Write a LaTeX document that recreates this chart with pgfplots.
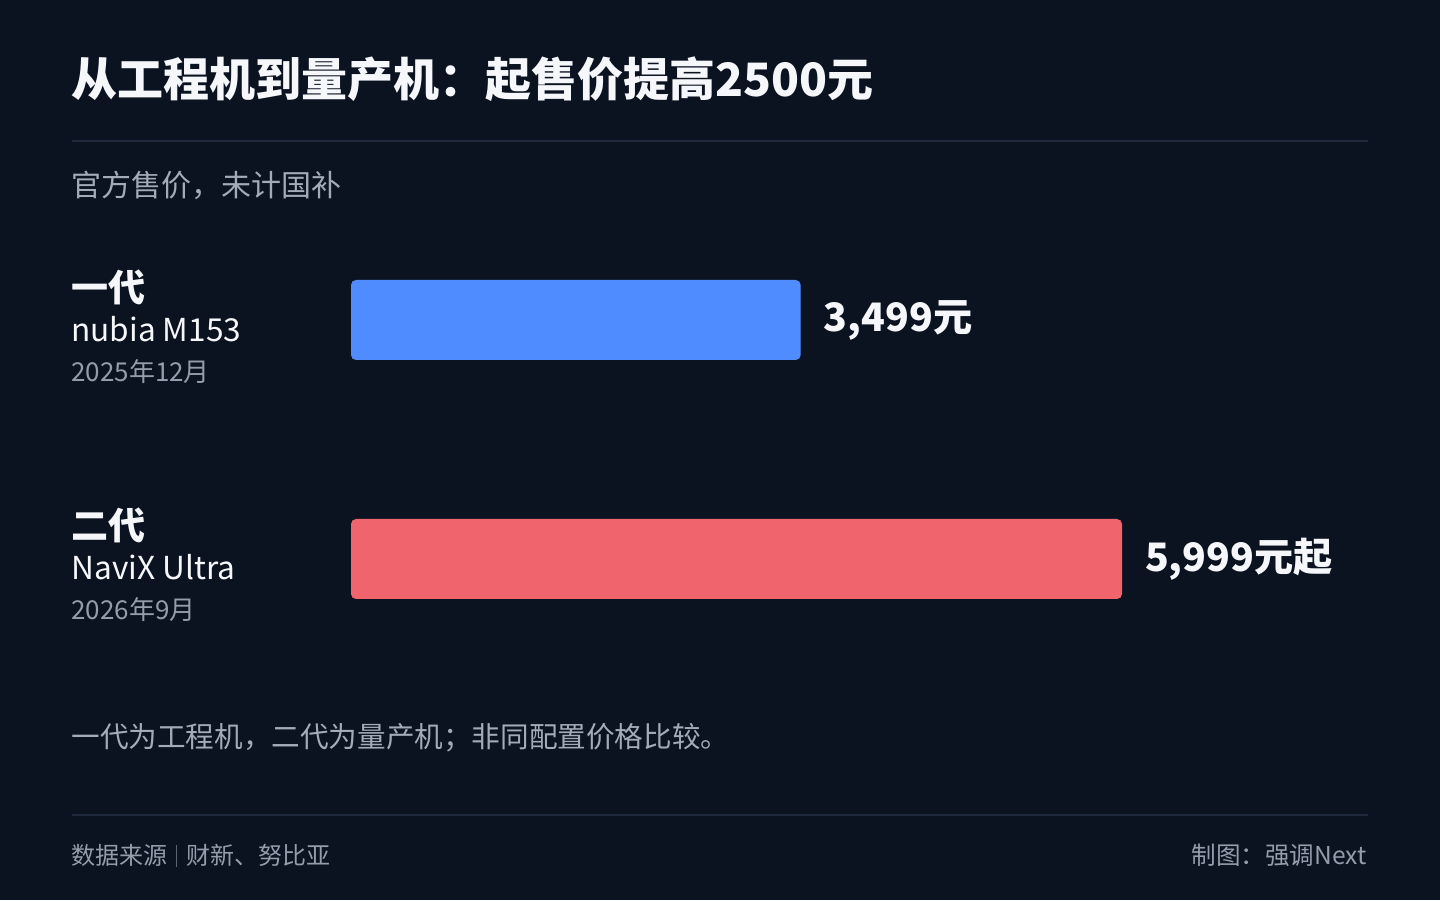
\documentclass[border=0pt]{standalone}
\usepackage{pgfplots}
\pgfplotsset{compat=1.18}
\usepackage{fontspec}
\setmainfont{Noto Sans CJK SC}

\definecolor{bg}{HTML}{0B1220}
\definecolor{rulec}{HTML}{1E293B}
\definecolor{txt}{HTML}{F5F7FA}
\definecolor{sub}{HTML}{A3ABB8}
\definecolor{dim}{HTML}{949DAB}
\definecolor{barA}{HTML}{4F8CFF}
\definecolor{barB}{HTML}{F0646E}

\begin{document}
\begin{tikzpicture}
% canvas 1440x900 px, 1px = 0.5pt
\fill[bg] (0,0) rectangle (720pt,450pt);
\useasboundingbox (0,0) rectangle (720pt,450pt);

% title and rules
\node[anchor=base west, inner sep=0, text=txt, font=\fontsize{23}{27}\selectfont\bfseries]
  at (35.5pt,401.5pt) {从工程机到量产机：起售价提高2500元};
\draw[rulec, line width=1pt] (36pt,379.5pt) -- (684pt,379.5pt);
\node[anchor=base west, inner sep=0, text=sub, font=\fontsize{15}{18}\selectfont]
  at (35.5pt,351.5pt) {官方售价，未计国补};

% category labels
\node[anchor=base west, inner sep=0, text=txt, font=\fontsize{18.5}{22}\selectfont\bfseries]
  at (35.5pt,299pt) {一代};
\node[anchor=base west, inner sep=0, text=txt, font=\fontsize{15.8}{19}\selectfont]
  at (35.5pt,279pt) {nubia M153};
\node[anchor=base west, inner sep=0, text=dim, font=\fontsize{13}{16}\selectfont]
  at (35.5pt,259pt) {2025年12月};

\node[anchor=base west, inner sep=0, text=txt, font=\fontsize{18.5}{22}\selectfont\bfseries]
  at (35.5pt,180pt) {二代};
\node[anchor=base west, inner sep=0, text=txt, font=\fontsize{15.8}{19}\selectfont]
  at (35.5pt,160pt) {NaviX Ultra};
\node[anchor=base west, inner sep=0, text=dim, font=\fontsize{13}{16}\selectfont]
  at (35.5pt,140pt) {2026年9月};

\begin{axis}[
    at={(175.5pt,110.75pt)}, anchor=south west,
    scale only axis,
    width=385.5pt, height=239pt,
    xmin=0, xmax=5999,
    ymin=-0.5, ymax=1.5,
    hide axis,
    clip=false,
    xbar,
    bar width=40pt,
    bar shift=0pt,
    point meta=explicit symbolic,
    nodes near coords,
    every node near coord/.append style={anchor=west, xshift=8pt, text=txt,
        font=\fontsize{19.6}{23}\selectfont\bfseries},
]
\addplot[draw=none, fill=barA, rounded corners=2.5pt] coordinates {(3499,1) [3,499元]};
\addplot[draw=none, fill=barB, rounded corners=2.5pt] coordinates {(5999,0) [5,999元起]};
\end{axis}

% footnote and footer
\node[anchor=base west, inner sep=0, text=sub, font=\fontsize{14.3}{17}\selectfont]
  at (35.5pt,76.5pt) {一代为工程机，二代为量产机；非同配置价格比较。};
\draw[rulec, line width=1pt] (36pt,42.5pt) -- (684pt,42.5pt);
\node[anchor=base west, inner sep=0, text=dim, font=\fontsize{12}{14}\selectfont]
  at (35.5pt,18pt) {数据来源\hspace{4.5pt}\textcolor{dim!60!bg}{\rule[-1.5pt]{0.5pt}{11pt}}\hspace{4.5pt}财新、努比亚};
\node[anchor=base east, inner sep=0, text=dim, font=\fontsize{12.3}{14}\selectfont]
  at (683.5pt,18pt) {制图：强调Next};
\end{tikzpicture}
\end{document}
